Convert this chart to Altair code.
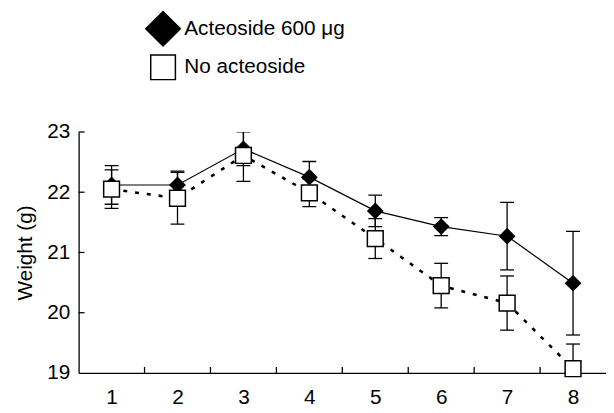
import altair as alt
import pandas as pd

# ---- data ----
days = [1, 2, 3, 4, 5, 6, 7, 8]
series = ["Acteoside 600 \u03bcg", "No acteoside"]
act_mean = [22.12, 22.12, 22.72, 22.25, 21.69, 21.43, 21.27, 20.49]
act_err = [0.32, 0.23, 0.28, 0.26, 0.26, 0.15, 0.56, 0.86]
no_mean = [22.05, 21.90, 22.61, 21.99, 21.23, 20.45, 20.16, 19.07]
no_err = [0.32, 0.43, 0.43, 0.23, 0.33, 0.37, 0.45, 0.41]
y_ticks = [19, 20, 21, 22, 23]
y_inner_ticks = [20, 21, 22, 23]
x_boundaries = [1.5, 2.5, 3.5, 4.5, 5.5, 6.5, 7.5]

W, H = 534, 244
FONT = "Liberation Sans"
FS = 21

rows = []
for name, means, errs in ((series[0], act_mean, act_err), (series[1], no_mean, no_err)):
    for d, m, e in zip(days, means, errs):
        rows.append({"day": d, "w": m, "lo": m - e, "hi": m + e, "series": name})
df = pd.DataFrame(rows)
act = df[df["series"] == series[0]]
no = df[df["series"] == series[1]]

xs = alt.Scale(domain=[0.5, 8.5], nice=False, zero=False)
ys = alt.Scale(domain=[19, 23], nice=False, zero=False)

x_axis = alt.Axis(values=days, tickSize=0, labelPadding=14, title=None, grid=False,
                  labelFontSize=FS, labelFont=FONT, labelColor="black",
                  domainColor="black", domainWidth=1.3, labelFlush=False)
y_axis = alt.Axis(values=y_ticks, tickSize=0, labelPadding=9, title="Weight (g)", grid=False,
                  labelFontSize=FS, labelFont=FONT, labelColor="black",
                  titleFontSize=FS, titleFont=FONT, titleColor="black", titleFontWeight="normal",
                  titlePadding=11, domainColor="black", domainWidth=1.3)


def X(field):
    return alt.X(field, scale=xs, axis=x_axis)


def Y(field):
    return alt.Y(field, scale=ys, axis=y_axis)


err = alt.Chart(df).mark_rule(color="black", strokeWidth=1.3, clip=True).encode(
    x=X("day:Q"), y=Y("lo:Q"), y2="hi:Q")
cap_hi = alt.Chart(df).mark_tick(orient="horizontal", size=14, thickness=1.3,
                                 color="black", opacity=1, clip=True).encode(x=X("day:Q"), y=Y("hi:Q"))
cap_lo = alt.Chart(df).mark_tick(orient="horizontal", size=14, thickness=1.3,
                                 color="black", opacity=1, clip=True).encode(x=X("day:Q"), y=Y("lo:Q"))

xt = alt.Chart(pd.DataFrame({"b": x_boundaries})).mark_rule(color="black", strokeWidth=1.3).encode(
    x=X("b:Q"), y=alt.value(H), y2=alt.value(H - 6))
yt = alt.Chart(pd.DataFrame({"t": y_inner_ticks})).mark_rule(color="black", strokeWidth=1.3).encode(
    y=Y("t:Q"), x=alt.value(0), x2=alt.value(6))

line_no = alt.Chart(no).mark_line(color="black", strokeWidth=2.6, strokeDash=[4, 8]).encode(
    x=X("day:Q"), y=Y("w:Q"))
line_act = alt.Chart(act).mark_line(color="black", strokeWidth=1.2).encode(
    x=X("day:Q"), y=Y("w:Q"))

pts_act = alt.Chart(act).mark_point(shape="diamond", filled=True, size=289, color="black",
                                    opacity=1).encode(x=X("day:Q"), y=Y("w:Q"))
pts_no = alt.Chart(no).mark_point(shape="square", filled=True, size=256, fill="white",
                                  stroke="black", strokeWidth=1.5, opacity=1).encode(
    x=X("day:Q"), y=Y("w:Q"))

leg = alt.Legend(orient="none", legendX=67, legendY=-123, title=None,
                 labelFontSize=FS, labelFont=FONT, labelColor="black", labelLimit=400,
                 symbolStrokeColor="black", symbolStrokeWidth=1.5, symbolOpacity=1,
                 rowPadding=3, labelOffset=3)
legend_layer = alt.Chart(pd.DataFrame({"series": series})).mark_point(
    filled=True, strokeWidth=1.5).encode(
    x=alt.value(0), y=alt.value(0),
    shape=alt.Shape("series:N", scale=alt.Scale(domain=series, range=["diamond", "square"]), legend=leg),
    fill=alt.Fill("series:N", scale=alt.Scale(domain=series, range=["black", "white"]), legend=leg),
    stroke=alt.Stroke("series:N", scale=alt.Scale(domain=series, range=["black", "black"]), legend=leg),
    size=alt.Size("series:N", scale=alt.Scale(domain=series, range=[1225, 625]), legend=leg),
    opacity=alt.value(0),
)

chart = alt.layer(err, cap_hi, cap_lo, xt, yt, line_no, line_act, pts_act, pts_no, legend_layer).properties(
    width=W, height=H,
    autosize=alt.AutoSizeParams(type="none"),
    padding={"left": 71.5, "top": 123, "right": 0, "bottom": 36},
).configure_view(stroke=None)

chart.save("out.html", embed_options={"renderer": "svg", "actions": False})
